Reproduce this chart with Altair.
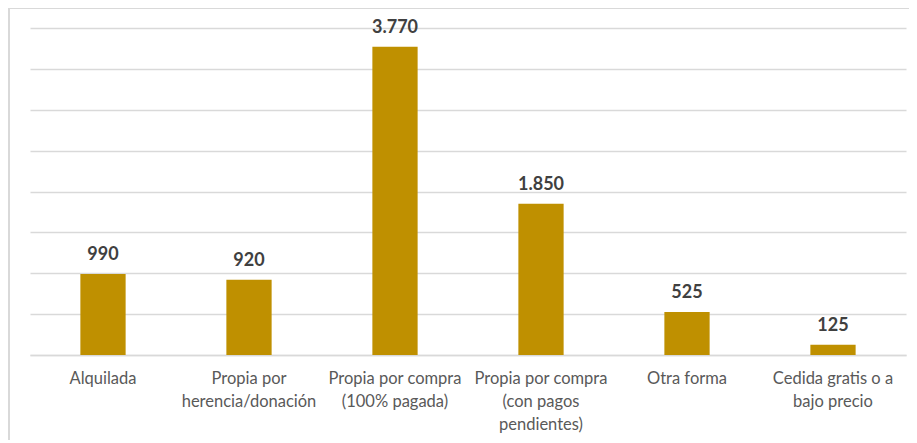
import altair as alt
import pandas as pd

categories = [
    "Alquilada",
    "Propia por\nherencia/donación",
    "Propia por compra\n(100% pagada)",
    "Propia por compra\n(con pagos\npendientes)",
    "Otra forma",
    "Cedida gratis o a\nbajo precio",
]
values = [990, 920, 3770, 1850, 525, 125]
value_labels = ["990", "920", "3.770", "1.850", "525", "125"]
y_ticks = [0, 500, 1000, 1500, 2000, 2500, 3000, 3500, 4000]

df = pd.DataFrame({"cat": categories, "val": values, "lab": value_labels})

x = alt.X(
    "cat:N",
    sort=categories,
    title=None,
    scale=alt.Scale(paddingInner=0.69, paddingOuter=0.345),
    axis=alt.Axis(
        labelExpr="split(datum.label, '\\n')",
        labelAngle=0,
        labelFont="Lato",
        labelFontSize=16.5,
        labelColor="#595959",
        labelLineHeight=23,
        labelPadding=23,
        labelBaseline="middle",
        ticks=False,
        grid=False,
        domain=True,
        domainColor="#d9d9d9",
        domainWidth=1.5,
        labelLimit=200,
    ),
)
y = alt.Y(
    "val:Q",
    title=None,
    scale=alt.Scale(domain=[0, 4000], nice=False),
    axis=alt.Axis(
        values=y_ticks,
        labels=False,
        ticks=False,
        domain=False,
        grid=True,
        gridColor="#d9d9d9",
        gridWidth=1.5,
    ),
)

bars = alt.Chart(df).mark_bar(color="#BF9000").encode(x=x, y=y)
texts = alt.Chart(df).mark_text(
    font="Lato", fontSize=18, fontWeight="bold", color="#404040",
    baseline="alphabetic", dy=-14,
).encode(
    x=alt.X("cat:N", sort=categories),
    y=alt.Y("val:Q"),
    text="lab:N",
)

border_left = alt.Chart(df).mark_rule(color="#d9d9d9", strokeWidth=2).encode(
    x=alt.value(-21), y=alt.value(-20), y2=alt.value(420)
)
border_top = alt.Chart(df).mark_rule(color="#d9d9d9", strokeWidth=2).encode(
    x=alt.value(-21), x2=alt.value(900), y=alt.value(-20)
)

chart = (
    alt.layer(bars, texts, border_left, border_top)
    .properties(
        width=876,
        height=327,
        background="white",
        autosize=alt.AutoSizeParams(type="none"),
        padding={"left": 22, "top": 20, "right": 3, "bottom": 85},
    )
    .configure_view(strokeWidth=0, stroke="transparent")
)

chart.save("out.html", embed_options={"renderer": "svg", "actions": False})
